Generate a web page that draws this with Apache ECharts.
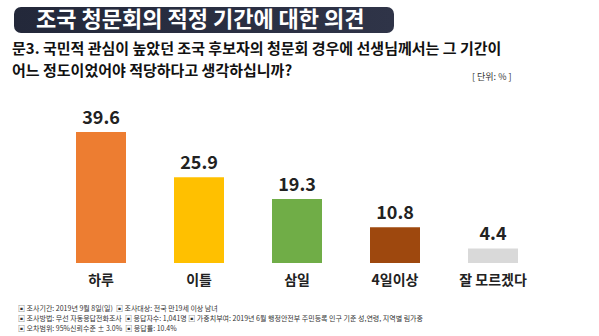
<!DOCTYPE html>
<html><head><meta charset="utf-8">
<script src="https://cdn.jsdelivr.net/npm/echarts@6/dist/echarts.min.js"></script>
<style>html,body{margin:0;padding:0;background:#fff}#c{width:599px;height:336px}</style>
</head><body><div id="c"></div>
<script>
const categories = ['하루', '이틀', '삼일', '4일이상', '잘 모르겠다'];
const values = [39.6, 25.9, 19.3, 10.8, 4.4];
const barColors = ['#ED7D31', '#FFC000', '#70AD47', '#9E480E', '#D9D9D9'];
const titleText = '조국 청문회의 적정 기간에 대한 의견';
const questionLines = ['문3. 국민적 관심이 높았던 조국 후보자의 청문회 경우에 선생님께서는 그 기간이',
  '어느 정도이었어야 적당하다고 생각하십니까?'];
const unitText = '[ 단위: % ]';
const notes = [
  '▣ 조사기간: 2019년 9월 8일(일)  ▣ 조사대상: 전국 만19세 이상 남녀',
  '▣ 조사방법: 무선 자동응답전화조사  ▣ 응답자수: 1,041명 ▣ 가중치부여: 2019년 6월 행정안전부 주민등록 인구 기준 성,연령, 지역별 림가중',
  '▣ 오차범위: 95%신뢰수준 ± 3.0%  ▣ 응답률: 10.4%'
];
const FONT = '"Noto Sans CJK KR", "Noto Sans", sans-serif';
const chart = echarts.init(document.getElementById('c'), null, {renderer: 'svg'});
const graphics = [
  {type: 'rect', left: 14, top: 7, shape: {width: 380, height: 26, r: 7},
   style: {fill: new echarts.graphic.LinearGradient(0, 0, 1, 0, [{offset: 0, color: '#23283a'}, {offset: 1, color: '#2f3448'}])}},
  {type: 'text', left: 36, top: 6, style: {text: titleText, fill: '#fff', font: 'bold 22px ' + FONT}},
  {type: 'text', left: 12, top: 40, style: {text: questionLines[0], fill: '#111', font: 'bold 15px ' + FONT}},
  {type: 'text', left: 12, top: 62, style: {text: questionLines[1], fill: '#111', font: 'bold 15px ' + FONT}},
  {type: 'text', left: 472, top: 72, style: {text: unitText, fill: '#333', font: '9px ' + FONT}}
];
notes.forEach((t, i) => graphics.push({type: 'text', left: 18, top: 304 + i * 10, style: {text: t, fill: '#333', font: '7px ' + FONT}}));
chart.setOption({
  animation: false,
  textStyle: {fontFamily: FONT},
  graphic: graphics,
  grid: {left: 52, width: 490, top: 97.5, height: 165.5},
  xAxis: {type: 'category', data: categories,
    axisLine: {show: false}, axisTick: {show: false},
    axisLabel: {color: '#222', fontSize: 14, fontWeight: 'bold', margin: 9, fontFamily: FONT}},
  yAxis: {type: 'value', min: 0, max: 50, show: false, splitLine: {show: false}},
  series: [{type: 'bar', barWidth: 50,
    data: values.map((v, i) => ({value: v, itemStyle: {color: barColors[i]}})),
    label: {show: true, position: 'top', distance: 7, color: '#222', fontSize: 18, fontWeight: 'bold', fontFamily: FONT}}]
});
</script></body></html>
